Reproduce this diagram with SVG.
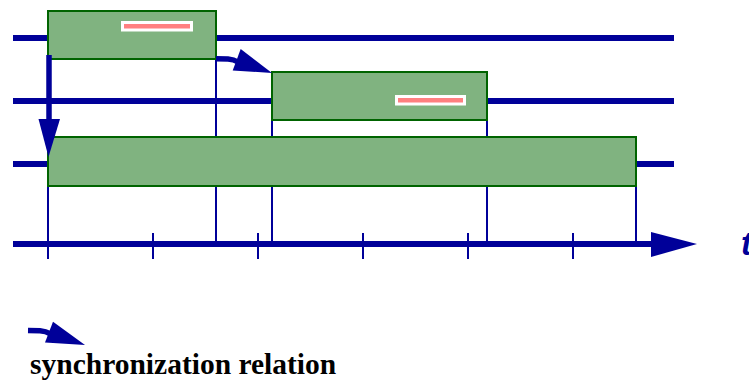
<svg xmlns="http://www.w3.org/2000/svg" width="749" height="380" viewBox="0 0 749 380">
<style>
.lane{stroke:#000099;stroke-width:6;fill:none}
.thin{stroke:#000099;stroke-width:2;fill:none}
.box{fill:#80B380;stroke:#006400;stroke-width:2}
.bar{fill:#FF8080;stroke:#FFFFFF;stroke-width:3}
.shaft{stroke:#000099;stroke-width:5.5;fill:none}
.head{fill:#000099}
.t{font-family:"Liberation Sans",Arial,sans-serif;font-weight:bold;font-style:italic;font-size:33px;fill:#000099}
.legend{font-family:"Liberation Serif","Times New Roman",serif;font-weight:bold;font-size:29.5px;fill:#000000}
</style>
<rect width="749" height="380" fill="#FFFFFF"/>
<g id="lanes">
<line class="lane" x1="13" y1="38" x2="674" y2="38"/>
<line class="lane" x1="13" y1="101" x2="674" y2="101"/>
<line class="lane" x1="13" y1="164" x2="674" y2="164"/>
</g>
<g id="guides">
<line class="thin" x1="48" y1="186" x2="48" y2="259"/>
<line class="thin" x1="216" y1="59" x2="216" y2="244"/>
<line class="thin" x1="272" y1="120" x2="272" y2="244"/>
<line class="thin" x1="487" y1="120" x2="487" y2="244"/>
<line class="thin" x1="636" y1="186" x2="636" y2="244"/>
</g>
<g id="axis">
<line class="lane" x1="13" y1="244" x2="655" y2="244"/>
<polygon class="head" points="651,232 697,244 651,257"/>
<line class="thin" x1="153" y1="233" x2="153" y2="259"/>
<line class="thin" x1="258" y1="233" x2="258" y2="259"/>
<line class="thin" x1="363" y1="233" x2="363" y2="259"/>
<line class="thin" x1="468" y1="233" x2="468" y2="259"/>
<line class="thin" x1="573" y1="233" x2="573" y2="259"/>
<text class="t" x="741" y="255">t</text>
</g>
<g id="task1">
<rect class="box" x="48" y="11" width="168" height="48"/>
<rect class="bar" x="122.5" y="22.5" width="69" height="7.5"/>
</g>
<g id="task2">
<rect class="box" x="272" y="72" width="215" height="48"/>
<rect class="bar" x="396.5" y="96.5" width="68" height="7.5"/>
</g>
<g id="task3">
<rect class="box" x="48" y="137" width="588" height="49"/>
</g>
<g id="connectors">
<line class="shaft" x1="49" y1="55" x2="49" y2="122"/>
<polygon class="head" points="38.5,119 60,119 48.5,157"/>
<path class="shaft" d="M216,58.8 L228,59 Q234,59.5 238,62"/>
<polygon class="head" points="240.7,49 232.7,70.5 272,73"/>
</g>
<g id="legend">
<path class="shaft" d="M28,330.5 L40,330.7 Q46,331.2 50,333.7"/>
<polygon class="head" points="53,321.7 45,342.5 85,345"/>
<text class="legend" x="30" y="374">synchronization relation</text>
</g>
</svg>
